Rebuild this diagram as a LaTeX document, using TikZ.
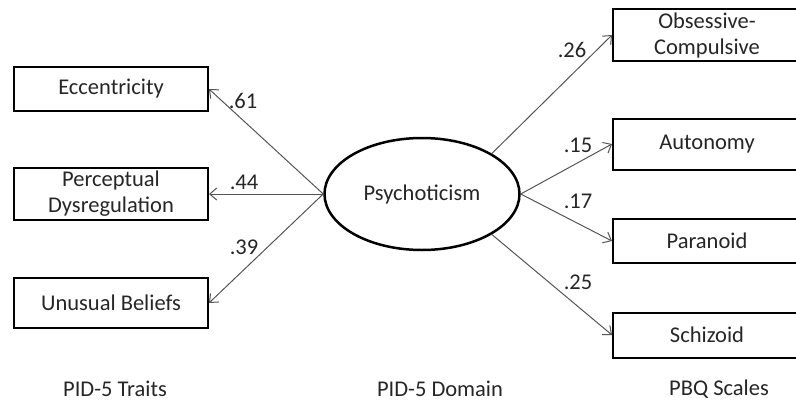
\documentclass[tikz,border=0pt]{standalone}
\usepackage{fontspec}
\setmainfont{Carlito}
\usetikzlibrary{arrows.meta,shapes.geometric}
\definecolor{txt}{HTML}{262626}
\definecolor{arr}{HTML}{555555}
\tikzset{
  box/.style={draw=black, line width=2pt, inner sep=0pt, align=center, text=txt,
              font=\fontsize{22.5}{26}\selectfont},
  lat/.style={draw=black, line width=2.5pt, ellipse, inner sep=0pt, text=txt,
              minimum width=195pt, minimum height=112pt, font=\fontsize{22.5}{26}\selectfont},
  conn/.style={draw=arr, line width=1pt, -{Straight Barb[length=7pt,width=12pt,line width=1pt]}},
  coef/.style={text=txt, inner sep=0pt, font=\fontsize{22.5}{26}\selectfont},
  captext/.style={text=txt, inner sep=0pt, font=\fontsize{22.5}{26}\selectfont}
}
\begin{document}
\begin{tikzpicture}[x=1pt,y=-1pt]
\useasboundingbox (0,0) rectangle (796,405);
\clip (0,0) rectangle (796,405);
% left boxes
\node[box, minimum width=194pt, minimum height=44pt] (ecc) at (111,89) {Eccentricity};
\node[box, minimum width=194pt, minimum height=52pt] (per) at (111,194) {Perceptual\\Dysregulation};
\node[box, minimum width=194pt, minimum height=50pt] (unu) at (111,303) {Unusual Beliefs};
% latent
\node[lat] (psy) at (422,194) {Psychoticism};
% right boxes (cut by the picture's right edge)
\node[box, minimum width=200pt, minimum height=52pt, text width=200pt] (obs) at (713,35) {\hspace*{-12pt}Obsessive-\\\hspace*{-12pt}Compulsive};
\node[box, minimum width=200pt, minimum height=51pt, text width=200pt] (aut) at (713,144) {\hspace*{-12pt}Autonomy};
\node[box, minimum width=200pt, minimum height=44pt, text width=200pt] (par) at (713,241) {\hspace*{-12pt}Paranoid};
\node[box, minimum width=200pt, minimum height=45pt, text width=200pt] (sch) at (713,335) {\hspace*{-12pt}Schizoid};
% connectors
\draw[conn] (psy.west) -- (ecc.east);
\draw[conn] (psy.west) -- (per.east);
\draw[conn] (psy.west) -- (unu.east);
\draw[conn] (psy.north east) -- (obs.west);
\draw[conn] (psy.east) -- (aut.west);
\draw[conn] (psy.east) -- (par.west);
\draw[conn] (psy.south east) -- (sch.west);
% coefficients
\node[coef] (c1) at (243,101) {.61};
\node[coef] (c2) at (244,182) {.44};
\node[coef] (c3) at (244,247) {.39};
\node[coef] (c4) at (572,50) {.26};
\node[coef] (c5) at (578,145) {.15};
\node[coef] (c6) at (578,201) {.17};
\node[coef] (c7) at (578,282) {.25};
% captions
\node[captext] (t1) at (115,389) {PID-5 Traits};
\node[captext] (t2) at (440,389) {PID-5 Domain};
\node[captext] (t3) at (719,389) {PBQ Scales};
\end{tikzpicture}
\end{document}
